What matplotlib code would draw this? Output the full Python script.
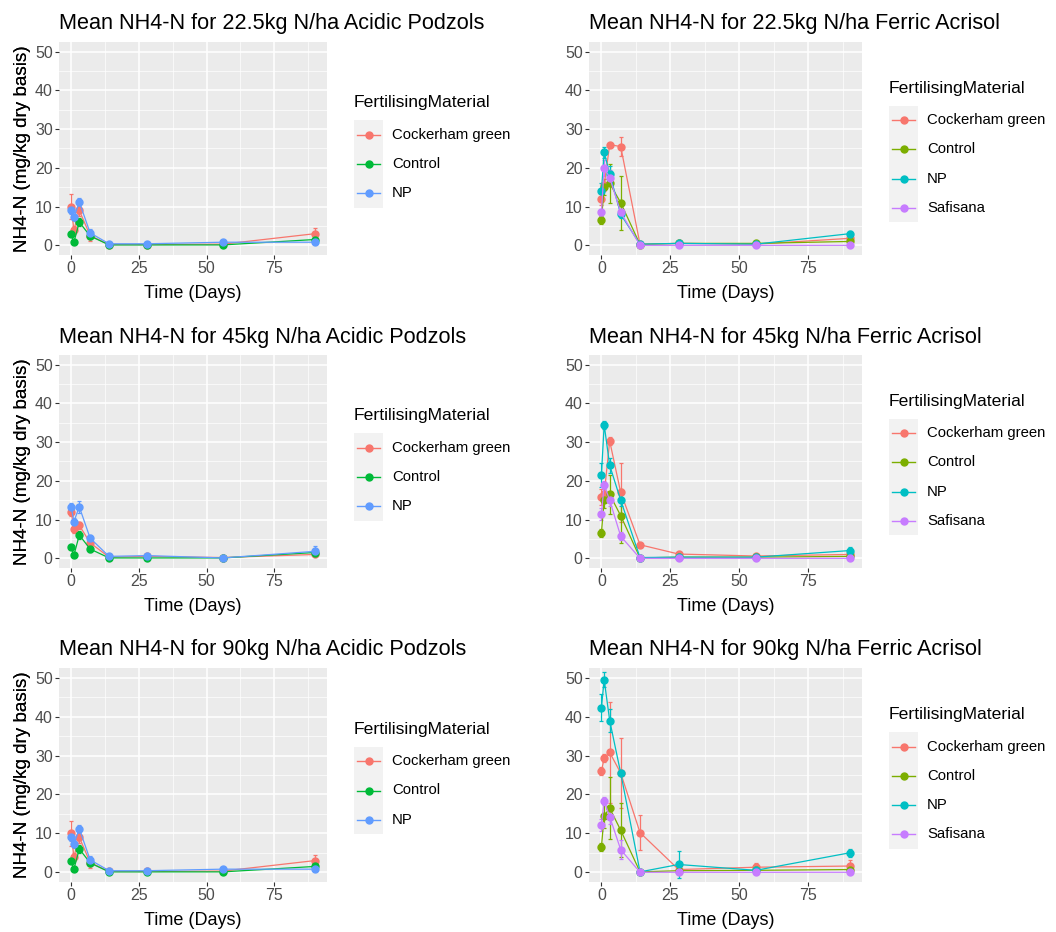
import matplotlib
matplotlib.use("Agg")
import matplotlib.pyplot as plt
from matplotlib.patches import Rectangle
from matplotlib.lines import Line2D

plt.rcParams['font.family'] = ['Liberation Sans', 'DejaVu Sans']

W, H = 1056, 932

# sampling days
days = [0, 1, 3, 7, 14, 28, 56, 90]

podzol_materials = ["Cockerham green", "Control", "NP"]
podzol_colors = ["#F8766D", "#00BA38", "#619CFF"]
acrisol_materials = ["Cockerham green", "Control", "NP", "Safisana"]
acrisol_colors = ["#F8766D", "#7CAE00", "#00BFC4", "#C77CFF"]

# Acidic Podzols, 22.5 kg N/ha (rows follow podzol_materials)
pod22_mean = [[10.0, 4.0, 9.0, 2.5, 0.2, 0.2, 0.3, 3.0],
              [2.8, 0.8, 6.0, 2.4, 0.1, 0.1, 0.1, 1.5],
              [9.0, 7.2, 11.2, 3.2, 0.4, 0.4, 0.8, 0.8]]
pod22_err = [[3.3, 1.0, 1.5, 1.5, 0.3, 0.3, 0.3, 1.5],
             [0.5, 0.3, 1.0, 0.8, 0.1, 0.1, 0.1, 0.5],
             [1.0, 1.0, 1.0, 1.0, 0.2, 0.2, 0.2, 0.3]]

# Acidic Podzols, 45 kg N/ha
pod45_mean = [[12.0, 7.5, 8.5, 4.0, 0.3, 0.5, 0.2, 1.0],
              [2.8, 0.8, 6.0, 2.4, 0.1, 0.1, 0.1, 1.5],
              [13.3, 9.5, 13.3, 5.2, 0.5, 0.7, 0.1, 1.8]]
pod45_err = [[1.0, 1.0, 1.0, 0.8, 0.2, 0.2, 0.1, 0.5],
             [0.5, 0.3, 1.0, 0.8, 0.1, 0.1, 0.1, 0.5],
             [1.0, 1.0, 1.5, 0.8, 0.2, 0.2, 0.1, 1.5]]

# Acidic Podzols, 90 kg N/ha
pod90_mean = [[10.0, 4.0, 9.0, 2.5, 0.2, 0.2, 0.3, 3.0],
              [2.8, 0.8, 6.0, 2.4, 0.1, 0.1, 0.1, 1.5],
              [9.0, 7.2, 11.2, 3.2, 0.4, 0.4, 0.8, 0.8]]
pod90_err = [[3.3, 1.0, 1.5, 1.5, 0.3, 0.3, 0.3, 1.5],
             [0.5, 0.3, 1.0, 0.8, 0.1, 0.1, 0.1, 0.5],
             [1.0, 1.0, 1.0, 1.0, 0.2, 0.2, 0.2, 0.3]]

# Ferric Acrisol, 22.5 kg N/ha (rows follow acrisol_materials)
acr22_mean = [[12.0, 15.5, 26.0, 25.5, 0.3, 0.5, 0.3, 1.8],
              [6.5, 15.0, 16.0, 11.0, 0.2, 0.5, 0.5, 1.0],
              [14.0, 24.0, 18.5, 8.0, 0.3, 0.5, 0.3, 3.0],
              [8.5, 20.0, 17.5, 8.5, 0.0, 0.0, 0.0, 0.0]]
acr22_err = [[1.5, 1.5, 0.5, 2.5, 0.3, 0.3, 0.3, 0.5],
             [1.0, 2.0, 5.0, 7.0, 0.2, 0.3, 0.3, 0.5],
             [2.0, 1.5, 2.0, 1.0, 0.2, 0.2, 0.2, 0.8],
             [1.0, 2.0, 2.0, 1.0, 0.1, 0.1, 0.1, 0.1]]

# Ferric Acrisol, 45 kg N/ha
acr45_mean = [[15.8, 16.5, 30.3, 17.0, 3.5, 1.1, 0.6, 1.0],
              [6.6, 15.0, 16.5, 11.0, 0.1, 0.3, 0.3, 0.5],
              [21.5, 34.5, 24.0, 15.0, 0.2, 0.3, 0.3, 2.0],
              [11.5, 19.0, 15.0, 5.7, 0.0, 0.0, 0.0, 0.0]]
acr45_err = [[2.0, 2.0, 1.0, 7.5, 0.5, 0.3, 0.3, 0.3],
             [1.0, 2.0, 5.0, 7.0, 0.1, 0.1, 0.1, 0.2],
             [3.0, 1.0, 2.0, 1.5, 0.1, 0.1, 0.1, 1.0],
             [1.5, 1.0, 1.5, 1.0, 0.1, 0.1, 0.1, 0.1]]

# Ferric Acrisol, 90 kg N/ha
acr90_mean = [[26.0, 29.3, 30.8, 25.5, 10.2, 0.7, 1.3, 1.6],
              [6.5, 14.5, 16.5, 10.8, 0.1, 0.4, 0.5, 0.7],
              [42.3, 49.5, 39.0, 25.5, 0.1, 2.0, 0.5, 5.0],
              [12.2, 18.3, 14.3, 5.8, 0.0, 0.0, 0.0, 0.0]]
acr90_err = [[1.0, 1.0, 13.0, 9.0, 4.5, 0.3, 1.2, 1.5],
             [1.0, 3.0, 8.0, 7.0, 0.1, 0.1, 0.1, 0.2],
             [3.5, 2.0, 3.0, 0.5, 0.1, 3.5, 0.3, 1.0],
             [1.5, 1.0, 2.0, 2.5, 0.1, 0.1, 0.1, 0.1]]

titles = ["Mean NH4-N for 22.5kg N/ha Acidic Podzols", "Mean NH4-N for 22.5kg N/ha Ferric Acrisol",
          "Mean NH4-N for 45kg N/ha Acidic Podzols", "Mean NH4-N for 45kg N/ha Ferric Acrisol",
          "Mean NH4-N for 90kg N/ha Acidic Podzols", "Mean NH4-N for 90kg N/ha Ferric Acrisol"]


def fx(x):
    return x / W


def fy(y):
    return 1 - y / H


def draw_legend(fig, x_left, y_mid, materials, colors):
    key = 29.2
    n = len(materials)
    first = y_mid - (n - 1) * key / 2
    fig.text(fx(x_left), fy(first - 32), "FertilisingMaterial", fontsize=12.6,
             ha='left', va='center', color='black')
    fig.add_artist(Rectangle((fx(x_left), fy(first - key / 2 + n * key)), 29 / W, n * key / H,
                             transform=fig.transFigure, facecolor='#F2F2F2', edgecolor='none'))
    for i, (m, c) in enumerate(zip(materials, colors)):
        yc = first + i * key
        fig.add_artist(Line2D([fx(x_left + 3), fx(x_left + 26)], [fy(yc), fy(yc)],
                              transform=fig.transFigure, color=c, lw=1.0))
        fig.add_artist(Line2D([fx(x_left + 14.5)], [fy(yc)], transform=fig.transFigure,
                              color=c, marker='o', markersize=5, lw=0))
        fig.text(fx(x_left + 38), fy(yc), m, fontsize=10.7, ha='left', va='center', color='black')


def draw_panel(fig, box, title, materials, colors, means, errs):
    x0, x1, y0, y1 = box
    ax = fig.add_axes([fx(x0), fy(y1), (x1 - x0) / W, (y1 - y0) / H])
    ax.set_facecolor('#EBEBEB')
    for sp in ax.spines.values():
        sp.set_visible(False)
    ax.set_xlim(-4.5, 94.5)
    ax.set_ylim(-2.5, 52.5)
    ax.set_xticks([0, 25, 50, 75])
    ax.set_xticks([12.5, 37.5, 62.5, 87.5], minor=True)
    ax.set_yticks([0, 10, 20, 30, 40, 50])
    ax.set_yticks([5, 15, 25, 35, 45], minor=True)
    ax.grid(which='major', color='white', lw=1.1)
    ax.grid(which='minor', color='white', lw=0.5)
    ax.set_axisbelow(True)
    ax.tick_params(which='major', length=3, width=0.8, color='#333333', labelsize=11.5,
                   labelcolor='#4D4D4D', pad=1.5)
    ax.tick_params(which='minor', length=0)
    for m, c, mu, e in zip(materials, colors, means, errs):
        ax.errorbar(days, mu, yerr=e, color=c, lw=0.9, marker='o', markersize=5,
                    elinewidth=0.9, capsize=1.5, capthick=0.9)
    ax.set_xlabel("Time (Days)", fontsize=13, color='black', va='top')
    ax.set_ylabel("NH4-N (mg/kg dry basis)", fontsize=13.6, color='black')
    # x label top about 30 px below the panel, y label right edge near x0 - 28
    ax.xaxis.set_label_coords(0.5, -30 / (y1 - y0))
    ax.yaxis.set_label_coords(-(x0 - 31) / (x1 - x0), 0.5)
    ax.set_title(title, loc='left', fontsize=15.6, pad=9, color='black')
    draw_legend(fig, x1 + 27, (y0 + y1) / 2 + 15.5, materials, colors)
    return ax


fig = plt.figure(figsize=(W / 100, H / 100), dpi=100)
fig.patch.set_facecolor('white')

rows = [(42, 255), (355, 568), (668, 882)]
cols = [(59, 327), (589, 862)]

panels = [(podzol_materials, podzol_colors, pod22_mean, pod22_err),
          (acrisol_materials, acrisol_colors, acr22_mean, acr22_err),
          (podzol_materials, podzol_colors, pod45_mean, pod45_err),
          (acrisol_materials, acrisol_colors, acr45_mean, acr45_err),
          (podzol_materials, podzol_colors, pod90_mean, pod90_err),
          (acrisol_materials, acrisol_colors, acr90_mean, acr90_err)]

for k, (mats, cols_c, mu, er) in enumerate(panels):
    r, c = divmod(k, 2)
    y0, y1 = rows[r]
    x0, x1 = cols[c]
    draw_panel(fig, (x0, x1, y0, y1), titles[k], mats, cols_c, mu, er)

fig.savefig("out.png", dpi=100)
